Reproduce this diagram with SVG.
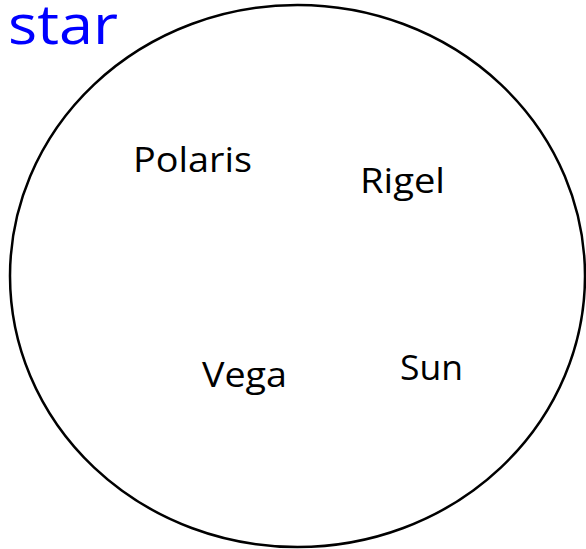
<svg xmlns="http://www.w3.org/2000/svg" width="586" height="549" viewBox="0 0 586 549">
<style>
.lbl{font-family:"Open Sans","Noto Sans","Liberation Sans",sans-serif;font-size:34px;fill:#000}
.title{font-family:"Open Sans","Noto Sans","Liberation Sans",sans-serif;font-size:54px;fill:#0000ff}
</style>
<rect width="586" height="549" fill="#fff"/>
<g id="star">
<ellipse cx="297.5" cy="276" rx="287.5" ry="271" fill="none" stroke="#000" stroke-width="2.5"/>
<text class="title" x="8" y="44" textLength="110" lengthAdjust="spacingAndGlyphs">star</text>
</g>
<g id="polaris"><text class="lbl" x="133" y="172" textLength="119" lengthAdjust="spacingAndGlyphs">Polaris</text></g>
<g id="rigel"><text class="lbl" x="360" y="193" textLength="85" lengthAdjust="spacingAndGlyphs">Rigel</text></g>
<g id="vega"><text class="lbl" x="202" y="387" textLength="85" lengthAdjust="spacingAndGlyphs">Vega</text></g>
<g id="sun"><text class="lbl" x="400" y="380" textLength="63" lengthAdjust="spacingAndGlyphs">Sun</text></g>
<g id="connectors"></g>
</svg>
